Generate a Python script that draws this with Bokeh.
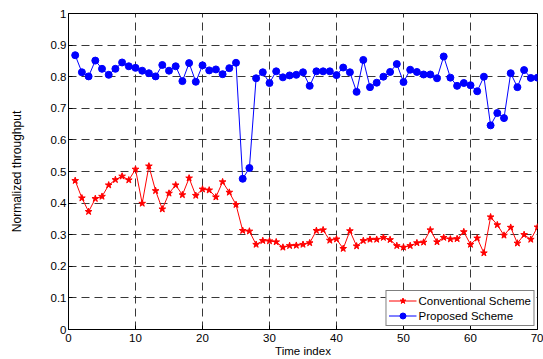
from bokeh.plotting import figure
from bokeh.models import FixedTicker, Legend
from bokeh.embed import file_html
from bokeh.resources import INLINE

time_index = list(range(1, 71))

conventional = [
    0.471, 0.416, 0.373, 0.414, 0.421, 0.457, 0.474, 0.485, 0.473, 0.507,
    0.399, 0.517, 0.439, 0.381, 0.431, 0.457, 0.426, 0.479, 0.424, 0.444,
    0.441, 0.419, 0.467, 0.434, 0.395, 0.313, 0.311, 0.269, 0.281, 0.280,
    0.277, 0.260, 0.265, 0.266, 0.269, 0.274, 0.313, 0.315, 0.282, 0.286,
    0.256, 0.312, 0.264, 0.281, 0.285, 0.285, 0.291, 0.284, 0.265, 0.260,
    0.265, 0.274, 0.276, 0.315, 0.277, 0.291, 0.286, 0.287, 0.309, 0.269,
    0.289, 0.242, 0.356, 0.331, 0.298, 0.323, 0.273, 0.300, 0.285, 0.324,
]

proposed = [
    0.868, 0.814, 0.801, 0.851, 0.825, 0.806, 0.825, 0.845, 0.833, 0.828,
    0.819, 0.811, 0.801, 0.837, 0.819, 0.833, 0.786, 0.843, 0.784, 0.836,
    0.820, 0.823, 0.808, 0.827, 0.844, 0.477, 0.511, 0.795, 0.814, 0.780,
    0.817, 0.798, 0.804, 0.806, 0.814, 0.771, 0.817, 0.817, 0.817, 0.805,
    0.829, 0.814, 0.752, 0.853, 0.767, 0.781, 0.800, 0.815, 0.840, 0.783,
    0.822, 0.815, 0.807, 0.807, 0.795, 0.864, 0.797, 0.771, 0.780, 0.773,
    0.754, 0.800, 0.646, 0.685, 0.669, 0.811, 0.767, 0.821, 0.796, 0.797,
]

x_ticks = [0, 10, 20, 30, 40, 50, 60, 70]
y_ticks = [0, 0.1, 0.2, 0.3, 0.4, 0.5, 0.6, 0.7, 0.8, 0.9, 1]
y_tick_labels = ["0", "0.1", "0.2", "0.3", "0.4", "0.5", "0.6", "0.7", "0.8", "0.9", "1"]

FONT = "Liberation Sans"
FS = "11.5px"

p = figure(width=543, height=359, x_range=(0, 70), y_range=(0, 1),
           output_backend="svg", toolbar_location=None,
           min_border_left=68, min_border_right=6, min_border_top=13,
           min_border_bottom=29, background_fill_color="white",
           border_fill_color="white")

p.outline_line_color = "black"
p.outline_line_width = 1
p.outline_line_alpha = 1

for ax in (p.xaxis[0], p.yaxis[0]):
    ax.axis_line_color = "black"
    ax.major_tick_line_color = "black"
    ax.major_tick_in = 4
    ax.major_tick_out = 0
    ax.minor_tick_line_color = None
    ax.major_label_text_font = FONT
    ax.major_label_text_font_size = FS
    ax.major_label_text_color = "black"
    ax.axis_label_text_font = FONT
    ax.axis_label_text_font_size = FS
    ax.axis_label_text_font_style = "normal"
    ax.axis_label_text_color = "black"

p.xaxis.ticker = FixedTicker(ticks=x_ticks)
p.yaxis.ticker = FixedTicker(ticks=y_ticks)
p.yaxis.major_label_overrides = {t: l for t, l in zip(y_ticks, y_tick_labels)}
p.xaxis.axis_label = "Time index"
p.yaxis.axis_label = "Normalized throughput"
p.yaxis.axis_label_text_font_size = "12px"
p.xaxis.major_label_standoff = 4
p.xaxis.axis_label_standoff = 0
p.yaxis.major_label_standoff = 2
p.yaxis.axis_label_standoff = 24

for g in (p.xgrid[0], p.ygrid[0]):
    g.grid_line_color = "#222222"
    g.grid_line_dash = "8 5"
    g.grid_line_width = 1
    g.grid_line_alpha = 0.9
p.xgrid.ticker = FixedTicker(ticks=x_ticks)
p.ygrid.ticker = FixedTicker(ticks=y_ticks)

r1l = p.line(time_index, conventional, line_color="red", line_width=1)
r1m = p.scatter(time_index, conventional, marker="star", size=7,
                fill_color="red", line_color="red")
r2l = p.line(time_index, proposed, line_color="blue", line_width=1)
r2m = p.scatter(time_index, proposed, marker="circle", size=7,
                fill_color="blue", line_color="blue")

legend = Legend(items=[("Conventional Scheme", [r1l, r1m]),
                       ("Proposed Scheme", [r2l, r2m])],
                location="bottom_right")
legend.margin = 3
legend.padding = 2
legend.spacing = 0
legend.glyph_width = 28
legend.glyph_height = 15
legend.label_height = 15
legend.label_standoff = 2
legend.label_text_font = FONT
legend.label_text_font_size = FS
legend.label_text_color = "black"
legend.border_line_color = "black"
legend.border_line_width = 1
legend.background_fill_color = "white"
legend.background_fill_alpha = 1
p.add_layout(legend, "center")

open("out.html", "w").write(file_html(p, INLINE))
